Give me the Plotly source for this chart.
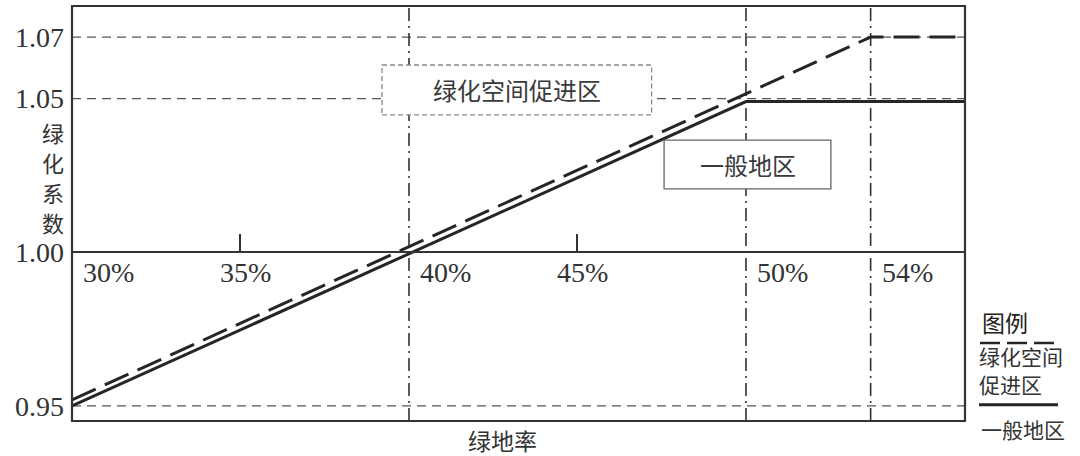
import plotly.graph_objects as go

# 绿地率 (%) vs 绿化系数
general_x = [30, 50, 56.5]
general_y = [0.95, 1.049, 1.049]

promo_x = [30, 53.7, 56.5]
promo_y = [0.952, 1.07, 1.07]

y_ticks = [0.95, 1.00, 1.05, 1.07]
y_ref_lines = [0.95, 1.05, 1.07]

x_minor_ticks = [35, 45]
x_label_pos = [30, 35, 40, 45, 50, 53.7]
x_label_text = ["30%", "35%", "40%", "45%", "50%", "54%"]
x_break_lines = [40, 50, 53.7]

y_title_chars = ["绿", "化", "系", "数"]

SERIF = "Liberation Serif, Times New Roman, DejaVu Serif, serif"
CJK = "Noto Sans CJK SC"
INK = "#262626"

fig = go.Figure()

fig.add_trace(go.Scatter(
    x=promo_x, y=promo_y, mode="lines", name="绿化空间促进区",
    line=dict(color=INK, width=3, dash="26px,10px"),
))
fig.add_trace(go.Scatter(
    x=general_x, y=general_y, mode="lines", name="一般地区",
    line=dict(color=INK, width=3),
))

for v in y_ref_lines:
    fig.add_hline(y=v, line=dict(color="#555", width=1.3, dash="9px,6px"), layer="below")

for v in x_break_lines:
    fig.add_vline(x=v, line=dict(color="#333", width=1.6, dash="13px,5px,2px,5px"), layer="below")

# zone boxes (white fill hides the guide lines behind)
fig.add_shape(type="rect", x0=39.2, x1=47.2, y0=1.0447, y1=1.0609,
              line=dict(color="#8a8a8a", width=1.3, dash="5px,3px"),
              fillcolor="white", layer="above")
fig.add_annotation(x=43.2, y=1.0528, text="绿化空间促进区", showarrow=False,
                   xanchor="center", yanchor="middle",
                   font=dict(family=CJK, size=24, color="#3a3a3a"))
fig.add_shape(type="rect", x0=47.57, x1=52.52, y0=1.0206, y1=1.0365,
              line=dict(color="#666", width=1.3),
              fillcolor="white", layer="above")
fig.add_annotation(x=50.05, y=1.0285, text="一般地区", showarrow=False,
                   xanchor="center", yanchor="middle",
                   font=dict(family=CJK, size=24, color="#3a3a3a"))

# x tick labels sit just under the 1.00 line
for pos, txt in zip(x_label_pos, x_label_text):
    centered = pos in x_minor_ticks
    fig.add_annotation(x=pos, y=1.00, text=txt, showarrow=False,
                       xanchor="center" if centered else "left",
                       xshift=5 if centered else 9, yshift=-20, yanchor="middle",
                       font=dict(family=SERIF, size=28, color="#333"))

# vertical y title, one character per row
for i, ch in enumerate(y_title_chars):
    fig.add_annotation(x=-0.021, y=0.697 - i * 0.0723, xref="paper", yref="paper",
                       showarrow=False, text=ch, xanchor="center", yanchor="middle",
                       font=dict(family=CJK, size=22, color="#333"))
fig.add_annotation(x=0.4826, y=-0.046, xref="paper", yref="paper", showarrow=False,
                   text="绿地率", xanchor="center", yanchor="middle",
                   font=dict(family=CJK, size=23, color="#333"))

# legend block on the right
legend_text = dict(xref="paper", yref="paper", showarrow=False,
                   xanchor="left", yanchor="middle")
fig.add_annotation(x=1.0168, y=0.2386, text="图例",
                   font=dict(family=CJK, size=23, color="#222"), **legend_text)
fig.add_shape(type="line", xref="paper", yref="paper", x0=1.0168, x1=1.1041,
              y0=0.188, y1=0.188, line=dict(color=INK, width=2.5, dash="20px,7px"))
fig.add_annotation(x=1.013, y=0.1566, text="绿化空间",
                   font=dict(family=CJK, size=21, color="#333"), **legend_text)
fig.add_annotation(x=1.013, y=0.0892, text="促进区",
                   font=dict(family=CJK, size=21, color="#333"), **legend_text)
fig.add_shape(type="line", xref="paper", yref="paper", x0=1.0157, x1=1.1041,
              y0=0.039, y1=0.039, line=dict(color=INK, width=3))
fig.add_annotation(x=1.0157, y=-0.02, text="一般地区",
                   font=dict(family=CJK, size=21, color="#333"), **legend_text)

# frame
fig.add_shape(type="rect", xref="paper", yref="paper", x0=0, x1=1, y0=0, y1=1,
              line=dict(color="#333", width=2.2), layer="above")

fig.update_layout(
    width=1080, height=456,
    margin=dict(l=72, r=115, t=6, b=35, autoexpand=False),
    paper_bgcolor="white", plot_bgcolor="white",
    showlegend=False,
    xaxis=dict(
        range=[30, 56.5], anchor="free", position=(1.00 - 0.9451) / (1.0801 - 0.9451),
        showgrid=False, zeroline=False,
        showline=True, linecolor="#333", linewidth=2,
        tickvals=x_minor_ticks, ticks="inside", ticklen=17, tickwidth=2, tickcolor="#333",
        showticklabels=False,
    ),
    yaxis=dict(
        range=[0.9451, 1.0801], showgrid=False, zeroline=False,
        tickvals=y_ticks, ticktext=[f"{v:.2f}" for v in y_ticks],
        ticks="", ticklabelstandoff=7,
        tickfont=dict(family=SERIF, size=28, color="#333"),
    ),
)

# page body has a default 8px margin; drop it so the figure sits at the corner
fig.write_html("out.html", config={"displayModeBar": False},
               post_script="document.body.style.margin='0px';")
